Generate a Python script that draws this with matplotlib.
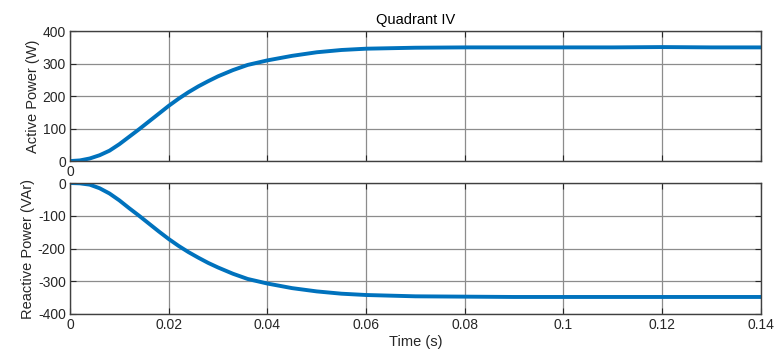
import matplotlib
matplotlib.use('Agg')
import matplotlib.pyplot as plt

plt.rcParams['font.family'] = ['Liberation Sans', 'DejaVu Sans']
plt.rcParams['axes.unicode_minus'] = False

# values
time_s = [0.0, 0.002, 0.004, 0.006, 0.008, 0.010, 0.012, 0.014, 0.016, 0.018,
          0.020, 0.022, 0.024, 0.026, 0.028, 0.030, 0.033, 0.036, 0.040, 0.045,
          0.050, 0.055, 0.060, 0.070, 0.080, 0.090, 0.100, 0.110, 0.120, 0.130, 0.140]
active_w = [0, 2, 8, 18, 32, 52, 75, 98, 122, 146,
            170, 192, 212, 230, 246, 261, 280, 296, 310, 324,
            335, 342, 346, 349, 350, 350, 350, 350, 351, 350, 350]
reactive_var = [0, -1, -5, -16, -32, -53, -77, -100, -124, -148,
                -171, -192, -211, -228, -244, -258, -277, -293, -307, -321,
                -331, -338, -342, -346, -347, -348, -348, -348, -348, -348, -348]

xticks = [0, 0.02, 0.04, 0.06, 0.08, 0.1, 0.12, 0.14]
xticklabels = ['0', '0.02', '0.04', '0.06', '0.08', '0.1', '0.12', '0.14']
line_color = '#0072BD'
axis_color = '#262626'

fig = plt.figure(figsize=(7.78, 3.54), dpi=100)
ax1 = fig.add_axes([0.09, 0.545, 0.888, 0.367])
ax2 = fig.add_axes([0.09, 0.113, 0.888, 0.370])


def style(ax):
    ax.set_xlim(0, 0.14)
    ax.set_xticks(xticks)
    ax.grid(True, color='#8c8c8c', linewidth=0.9)
    ax.set_axisbelow(True)
    ax.tick_params(direction='in', top=True, right=True, length=4,
                   labelsize=10, colors=axis_color, pad=3)
    for sp in ax.spines.values():
        sp.set_color('#404040')
        sp.set_linewidth(1.0)


ax1.plot(time_s, active_w, color=line_color, linewidth=2.8)
style(ax1)
ax1.set_ylim(0, 400)
ax1.set_yticks([0, 100, 200, 300, 400])
ax1.set_xticklabels(['0'] + [''] * (len(xticks) - 1))
ax1.set_ylabel('Active Power (W)', fontsize=10.5, color=axis_color, labelpad=2)
ax1.set_title('Quadrant IV', fontsize=10.5, color='black', pad=5)

ax2.plot(time_s, reactive_var, color=line_color, linewidth=2.8)
style(ax2)
ax2.set_ylim(-400, 0)
ax2.set_yticks([-400, -300, -200, -100, 0])
ax2.set_xticklabels(xticklabels)
ax2.set_ylabel('Reactive Power (VAr)', fontsize=10.5, color=axis_color, labelpad=2)
ax2.set_xlabel('Time (s)', fontsize=10.5, color=axis_color, labelpad=2)

fig.savefig('out.png', dpi=100)
